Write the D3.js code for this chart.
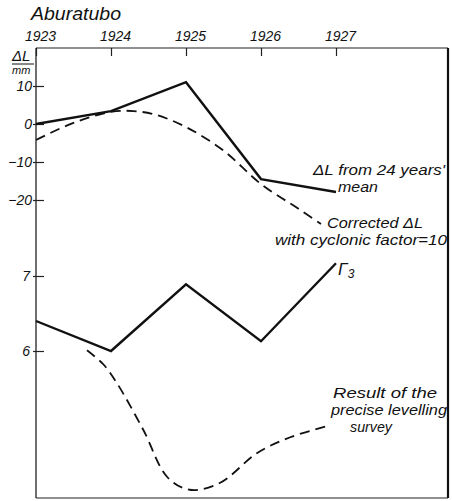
<!DOCTYPE html>
<html>
<head>
<meta charset="utf-8">
<script src="https://cdn.jsdelivr.net/npm/d3@7"></script>
<style>
  body { margin: 0; background: #fff; }
  text { font-family: "Liberation Sans", "DejaVu Sans", sans-serif; font-style: italic; fill: #111; }
</style>
</head>
<body>
<div id="chart"></div>
<script>
// years along the top axis
var years = [1923, 1924, 1925, 1926, 1927];

// left axis ticks
var dlTicks = [10, 0, -10, -20];
var gammaTicks = [7, 6];

// delta L from 24 years' mean (mm)
var dlMean = [0, 3.4, 11, -14.5, -17.9];

// corrected delta L with cyclonic factor = 10
var corrYears = [1923, 1923.5, 1924, 1924.3, 1924.6, 1925, 1925.5, 1926, 1926.5, 1926.8];
var corrValues = [-4.2, 0.3, 3.2, 3.4, 2.4, -0.8, -7, -15.8, -22.3, -26.3];

// gamma 3
var gamma3 = [6.4, 6.0, 6.89, 6.13, 7.17];

// result of the precise levelling survey (on gamma scale)
var survYears = [1923.68, 1923.9, 1924.08, 1924.43, 1924.75, 1925.05, 1925.45, 1925.95, 1926.39, 1926.89];
var survValues = [6.01, 5.82, 5.57, 4.95, 4.32, 4.15, 4.24, 4.64, 4.85, 5.0];

var width = 452;
var height = 501;

// frame edges
var frameL = 36, frameR = 448, frameT = 48, frameB = 498;

var svg = d3.select("#chart")
  .append("svg")
  .attr("width", width)
  .attr("height", height);

var x = d3.scaleLinear().domain([1923, 1927]).range([frameL, 336]);
var yL = d3.scaleLinear().domain([0, 10]).range([124, 86]);
var yG = d3.scaleLinear().domain([6, 7]).range([351, 276]);

// frame lines
svg.append("line").attr("x1", frameL).attr("x2", frameR).attr("y1", frameT).attr("y2", frameT)
  .attr("stroke", "#222").attr("stroke-width", 1.2);
svg.append("line").attr("x1", frameR).attr("x2", frameR).attr("y1", frameT).attr("y2", frameB)
  .attr("stroke", "#111").attr("stroke-width", 2.2);
svg.append("line").attr("x1", frameL).attr("x2", frameR).attr("y1", frameB).attr("y2", frameB)
  .attr("stroke", "#222").attr("stroke-width", 1.2);
svg.append("line").attr("x1", frameL).attr("x2", frameL).attr("y1", frameT).attr("y2", frameB)
  .attr("stroke", "#222").attr("stroke-width", 1.3);

// top axis with years
var xAxis = d3.axisTop(x).tickValues(years).tickFormat(d3.format("d"))
  .tickSizeInner(-8).tickSizeOuter(0).tickPadding(7);
svg.append("g")
  .attr("transform", "translate(0," + frameT + ")")
  .call(xAxis)
  .call(function(g) {
    g.select(".domain").remove();
    g.selectAll("line").attr("stroke", "#222").attr("stroke-width", 1.2);
    g.selectAll("text").style("font-size", "14px").attr("dx", 4).attr("fill", "#111");
  });

// left axes
function styleLeft(g) {
  g.select(".domain").remove();
  g.selectAll("line").attr("stroke", "#222").attr("stroke-width", 1.2).attr("x1", -3);
  g.selectAll("text").style("font-size", "14px").attr("fill", "#111");
}
svg.append("g")
  .attr("transform", "translate(" + frameL + ",0)")
  .call(d3.axisLeft(yL).tickValues(dlTicks).tickFormat(function(d) { return d < 0 ? "\u2212" + (-d) : d; })
    .tickSizeInner(-8).tickSizeOuter(0).tickPadding(4))
  .call(styleLeft);
svg.append("g")
  .attr("transform", "translate(" + frameL + ",0)")
  .call(d3.axisLeft(yG).tickValues(gammaTicks).tickFormat(d3.format("d"))
    .tickSizeInner(-8).tickSizeOuter(0).tickPadding(6))
  .call(styleLeft);

// titles
svg.append("text").attr("x", 31).attr("y", 20).style("font-size", "18px")
  .attr("textLength", 90).attr("lengthAdjust", "spacingAndGlyphs").text("Aburatubo");
svg.append("text").attr("x", 12).attr("y", 61).style("font-size", "15px").text("\u0394L");
svg.append("line").attr("x1", 12).attr("x2", 34).attr("y1", 64).attr("y2", 64)
  .attr("stroke", "#111").attr("stroke-width", 1);
svg.append("text").attr("x", 12).attr("y", 74).style("font-size", "11px").text("mm");

// lines
var lineDL = d3.line().x(function(d, i) { return x(years[i]); }).y(function(d) { return yL(d); });
var lineG = d3.line().x(function(d, i) { return x(years[i]); }).y(function(d) { return yG(d); });
var lineCorr = d3.line().x(function(d, i) { return x(corrYears[i]); }).y(function(d) { return yL(d); })
  .curve(d3.curveCatmullRom);
var lineSurv = d3.line().x(function(d, i) { return x(survYears[i]); }).y(function(d) { return yG(d); })
  .curve(d3.curveCatmullRom);

svg.append("path").datum(dlMean).attr("d", lineDL)
  .attr("fill", "none").attr("stroke", "#111").attr("stroke-width", 2.4);
svg.append("path").datum(corrValues).attr("d", lineCorr)
  .attr("fill", "none").attr("stroke", "#111").attr("stroke-width", 1.8).attr("stroke-dasharray", "10,6");
svg.append("path").datum(gamma3).attr("d", lineG)
  .attr("fill", "none").attr("stroke", "#111").attr("stroke-width", 2.4);
svg.append("path").datum(survValues).attr("d", lineSurv)
  .attr("fill", "none").attr("stroke", "#111").attr("stroke-width", 1.8).attr("stroke-dasharray", "10,6");

// annotations
function note(tx, ty, s, len) {
  svg.append("text").attr("x", tx).attr("y", ty).style("font-size", "15px")
    .attr("textLength", len).attr("lengthAdjust", "spacingAndGlyphs").text(s);
}
note(313, 175, "\u0394L from 24 years'", 132);
note(338, 192, "mean", 40);
note(327, 228, "Corrected \u0394L", 96);
note(275, 245, "with cyclonic factor=10", 172);
svg.append("text").attr("x", 338).attr("y", 275).style("font-size", "17px")
  .text("\u0393").append("tspan").attr("dy", 3).style("font-size", "12px").text("3");
note(333, 398, "Result of the", 104);
note(331, 415, "precise levelling", 116);
note(350, 432, "survey", 42);
</script>
</body>
</html>
